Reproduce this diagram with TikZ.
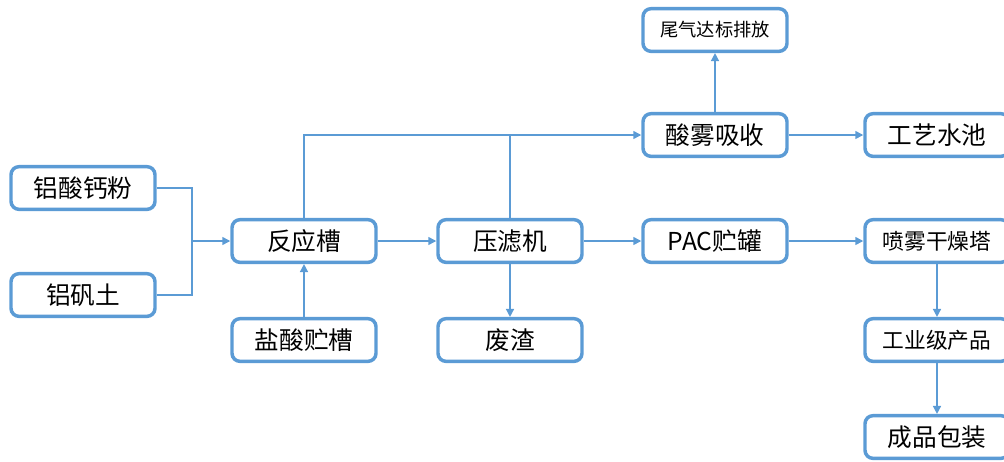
\documentclass[tikz,border=0pt]{standalone}
\usepackage{fontspec}
\newfontfamily\cjk{Noto Sans CJK SC}
\usetikzlibrary{arrows.meta}
\definecolor{boxblue}{RGB}{91,155,213}

\begin{document}
\begin{tikzpicture}[x=0.75pt, y=-0.75pt, >={Triangle[length=6pt,width=6pt]},
  font=\cjk\fontsize{18.5}{20}\selectfont,
  stage/.style={draw=boxblue, line width=2.6pt, rounded corners=6pt, fill=white,
    minimum width=108pt, minimum height=32pt, inner sep=0pt},
  flow/.style={draw=boxblue, line width=1.1pt}]
  \useasboundingbox (0,0) rectangle (1004,461);
  % Raw materials
  \node[stage] (fen) at (83,188) {铝酸钙粉};
  \node[stage] (fantu) at (83,295) {铝矾土};
  % Reaction and filtering
  \node[stage] (fyc) at (304,241) {反应槽};
  \node[stage] (ysc) at (304,340) {盐酸贮槽};
  \node[stage] (ylj) at (510,241) {压滤机};
  \node[stage] (fz) at (510,340) {废渣};
  % Acid mist line
  \node[stage] (swxs) at (715,135) {酸雾吸收};
  \node[stage, font=\cjk\fontsize{13.7}{15}\selectfont] (wq) at (715,30) {尾气达标排放};
  \node[stage] (gysc) at (937,135) {工艺水池};
  % Product line
  \node[stage] (pac) at (715,241) {PAC贮罐};
  \node[stage, font=\cjk\fontsize{16.3}{18}\selectfont] (pwgz) at (937,241) {喷雾干燥塔};
  \node[stage, font=\cjk\fontsize{16.3}{18}\selectfont] (gyj) at (937,340) {工业级产品};
  \node[stage] (cpbz) at (937,437) {成品包装};
  % Connectors
  \coordinate (hub) at (192,241);
  \draw[flow] (fen.east) -| (hub);
  \draw[flow] (fantu.east) -| (hub);
  \draw[flow,->] (hub) -- (fyc);
  \draw[flow,->] (ysc) -- (fyc);
  \draw[flow,->] (fyc) -- (ylj);
  \draw[flow,->] (fyc.north) |- (swxs.west);
  \draw[flow] (ylj.north) -- (ylj.north |- swxs.west);
  \draw[flow,->] (ylj) -- (fz);
  \draw[flow,->] (ylj) -- (pac);
  \draw[flow,->] (swxs) -- (wq);
  \draw[flow,->] (swxs) -- (gysc);
  \draw[flow,->] (pac) -- (pwgz);
  \draw[flow,->] (pwgz) -- (gyj);
  \draw[flow,->] (gyj) -- (cpbz);
\end{tikzpicture}
\end{document}
